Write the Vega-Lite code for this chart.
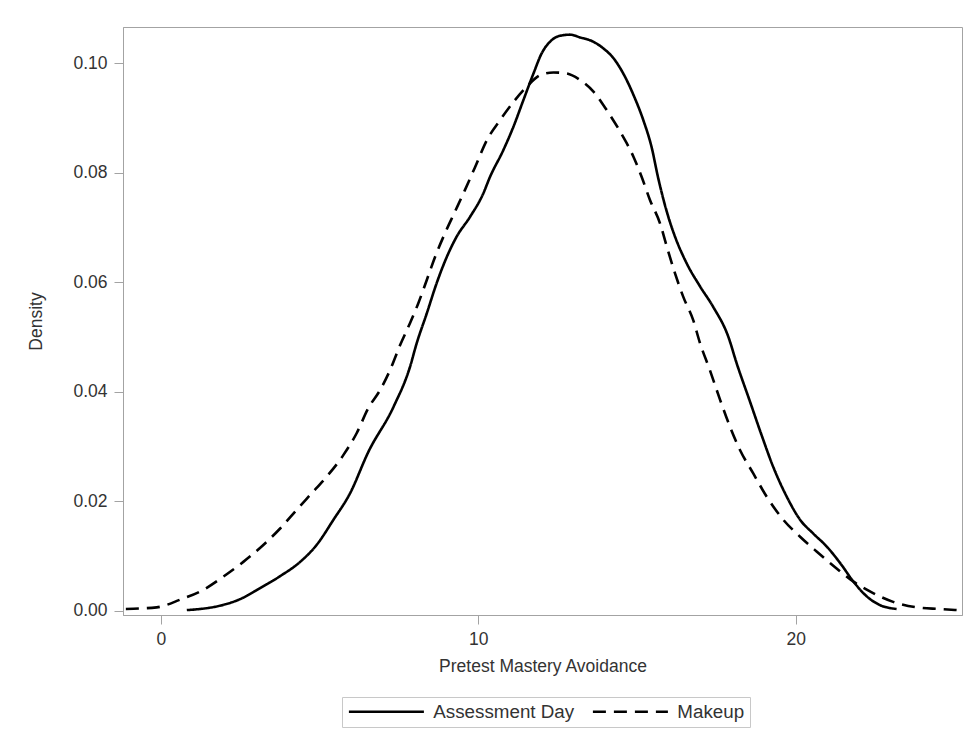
{
  "$schema": "https://vega.github.io/schema/vega-lite/v6.json",
  "autosize": {"type": "none"},
  "padding": {"left": 123, "top": 27, "right": 6, "bottom": 119},
  "width": 839,
  "height": 588,
  "background": "white",
  "config": {
    "font": "Liberation Sans",
    "view": {"stroke": "#a3a3a3", "strokeWidth": 1},
    "axis": {
      "domainColor": "#a3a3a3",
      "tickColor": "#a3a3a3",
      "tickSize": 9,
      "labelFont": "Liberation Sans",
      "titleFont": "Liberation Sans",
      "labelFontSize": 17.5,
      "titleFontSize": 17.5,
      "labelColor": "#333333",
      "titleColor": "#333333",
      "titleFontWeight": "normal",
      "grid": false
    },
    "legend": {
      "labelFont": "Liberation Sans",
      "labelFontSize": 18.8,
      "labelColor": "#333333"
    }
  },
  "data": {
    "values": [
      {"group": "Assessment Day", "x": 0.82, "d": 0.0001},
      {"group": "Assessment Day", "x": 1.24, "d": 0.0003},
      {"group": "Assessment Day", "x": 1.87, "d": 0.0009},
      {"group": "Assessment Day", "x": 2.50, "d": 0.0021},
      {"group": "Assessment Day", "x": 3.13, "d": 0.0041},
      {"group": "Assessment Day", "x": 3.76, "d": 0.0063},
      {"group": "Assessment Day", "x": 4.39, "d": 0.0089},
      {"group": "Assessment Day", "x": 4.91, "d": 0.0120},
      {"group": "Assessment Day", "x": 5.44, "d": 0.0166},
      {"group": "Assessment Day", "x": 5.96, "d": 0.0214},
      {"group": "Assessment Day", "x": 6.54, "d": 0.0290},
      {"group": "Assessment Day", "x": 7.33, "d": 0.0372},
      {"group": "Assessment Day", "x": 7.85, "d": 0.0445},
      {"group": "Assessment Day", "x": 8.06, "d": 0.0488},
      {"group": "Assessment Day", "x": 8.38, "d": 0.0543},
      {"group": "Assessment Day", "x": 8.69, "d": 0.0598},
      {"group": "Assessment Day", "x": 9.01, "d": 0.0646},
      {"group": "Assessment Day", "x": 9.32, "d": 0.0683},
      {"group": "Assessment Day", "x": 9.74, "d": 0.0719},
      {"group": "Assessment Day", "x": 10.16, "d": 0.0762},
      {"group": "Assessment Day", "x": 10.37, "d": 0.0792},
      {"group": "Assessment Day", "x": 10.79, "d": 0.0841},
      {"group": "Assessment Day", "x": 11.11, "d": 0.0884},
      {"group": "Assessment Day", "x": 11.42, "d": 0.0932},
      {"group": "Assessment Day", "x": 11.74, "d": 0.0981},
      {"group": "Assessment Day", "x": 12.00, "d": 0.1018},
      {"group": "Assessment Day", "x": 12.26, "d": 0.1039},
      {"group": "Assessment Day", "x": 12.58, "d": 0.1050},
      {"group": "Assessment Day", "x": 12.89, "d": 0.1052},
      {"group": "Assessment Day", "x": 13.21, "d": 0.1047},
      {"group": "Assessment Day", "x": 13.63, "d": 0.1039},
      {"group": "Assessment Day", "x": 13.94, "d": 0.1027},
      {"group": "Assessment Day", "x": 14.26, "d": 0.1009},
      {"group": "Assessment Day", "x": 14.57, "d": 0.0981},
      {"group": "Assessment Day", "x": 14.89, "d": 0.0942},
      {"group": "Assessment Day", "x": 15.20, "d": 0.0896},
      {"group": "Assessment Day", "x": 15.46, "d": 0.0847},
      {"group": "Assessment Day", "x": 15.67, "d": 0.0790},
      {"group": "Assessment Day", "x": 15.99, "d": 0.0719},
      {"group": "Assessment Day", "x": 16.20, "d": 0.0683},
      {"group": "Assessment Day", "x": 16.57, "d": 0.0634},
      {"group": "Assessment Day", "x": 16.99, "d": 0.0592},
      {"group": "Assessment Day", "x": 17.40, "d": 0.0555},
      {"group": "Assessment Day", "x": 17.88, "d": 0.0500},
      {"group": "Assessment Day", "x": 18.14, "d": 0.0452},
      {"group": "Assessment Day", "x": 18.56, "d": 0.0382},
      {"group": "Assessment Day", "x": 18.93, "d": 0.0320},
      {"group": "Assessment Day", "x": 19.29, "d": 0.0263},
      {"group": "Assessment Day", "x": 19.72, "d": 0.0208},
      {"group": "Assessment Day", "x": 20.14, "d": 0.0166},
      {"group": "Assessment Day", "x": 20.55, "d": 0.0141},
      {"group": "Assessment Day", "x": 20.98, "d": 0.0117},
      {"group": "Assessment Day", "x": 21.40, "d": 0.0087},
      {"group": "Assessment Day", "x": 21.82, "d": 0.0053},
      {"group": "Assessment Day", "x": 22.24, "d": 0.0026},
      {"group": "Assessment Day", "x": 22.66, "d": 0.0010},
      {"group": "Assessment Day", "x": 23.18, "d": 0.0003},
      {"group": "Makeup", "x": -1.10, "d": 0.0003},
      {"group": "Makeup", "x": -0.13, "d": 0.0006},
      {"group": "Makeup", "x": 0.61, "d": 0.0020},
      {"group": "Makeup", "x": 1.34, "d": 0.0038},
      {"group": "Makeup", "x": 1.97, "d": 0.0062},
      {"group": "Makeup", "x": 2.60, "d": 0.0089},
      {"group": "Makeup", "x": 3.23, "d": 0.0120},
      {"group": "Makeup", "x": 3.76, "d": 0.0150},
      {"group": "Makeup", "x": 4.28, "d": 0.0184},
      {"group": "Makeup", "x": 4.70, "d": 0.0211},
      {"group": "Makeup", "x": 5.23, "d": 0.0245},
      {"group": "Makeup", "x": 5.75, "d": 0.0284},
      {"group": "Makeup", "x": 6.17, "d": 0.0324},
      {"group": "Makeup", "x": 6.54, "d": 0.0370},
      {"group": "Makeup", "x": 6.91, "d": 0.0403},
      {"group": "Makeup", "x": 7.22, "d": 0.0439},
      {"group": "Makeup", "x": 7.54, "d": 0.0485},
      {"group": "Makeup", "x": 7.85, "d": 0.0525},
      {"group": "Makeup", "x": 8.11, "d": 0.0561},
      {"group": "Makeup", "x": 8.38, "d": 0.0604},
      {"group": "Makeup", "x": 8.64, "d": 0.0646},
      {"group": "Makeup", "x": 8.95, "d": 0.0689},
      {"group": "Makeup", "x": 9.27, "d": 0.0729},
      {"group": "Makeup", "x": 9.58, "d": 0.0768},
      {"group": "Makeup", "x": 9.90, "d": 0.0810},
      {"group": "Makeup", "x": 10.27, "d": 0.0859},
      {"group": "Makeup", "x": 10.69, "d": 0.0896},
      {"group": "Makeup", "x": 11.11, "d": 0.0929},
      {"group": "Makeup", "x": 11.53, "d": 0.0957},
      {"group": "Makeup", "x": 11.95, "d": 0.0978},
      {"group": "Makeup", "x": 12.37, "d": 0.0983},
      {"group": "Makeup", "x": 12.79, "d": 0.0981},
      {"group": "Makeup", "x": 13.21, "d": 0.0969},
      {"group": "Makeup", "x": 13.63, "d": 0.0948},
      {"group": "Makeup", "x": 14.05, "d": 0.0914},
      {"group": "Makeup", "x": 14.47, "d": 0.0875},
      {"group": "Makeup", "x": 14.89, "d": 0.0829},
      {"group": "Makeup", "x": 15.15, "d": 0.0792},
      {"group": "Makeup", "x": 15.41, "d": 0.0750},
      {"group": "Makeup", "x": 15.73, "d": 0.0707},
      {"group": "Makeup", "x": 15.94, "d": 0.0665},
      {"group": "Makeup", "x": 16.20, "d": 0.0616},
      {"group": "Makeup", "x": 16.46, "d": 0.0573},
      {"group": "Makeup", "x": 16.77, "d": 0.0531},
      {"group": "Makeup", "x": 16.99, "d": 0.0488},
      {"group": "Makeup", "x": 17.30, "d": 0.0439},
      {"group": "Makeup", "x": 17.62, "d": 0.0385},
      {"group": "Makeup", "x": 17.93, "d": 0.0336},
      {"group": "Makeup", "x": 18.25, "d": 0.0293},
      {"group": "Makeup", "x": 18.66, "d": 0.0251},
      {"group": "Makeup", "x": 19.09, "d": 0.0208},
      {"group": "Makeup", "x": 19.61, "d": 0.0166},
      {"group": "Makeup", "x": 20.14, "d": 0.0135},
      {"group": "Makeup", "x": 20.66, "d": 0.0108},
      {"group": "Makeup", "x": 21.29, "d": 0.0077},
      {"group": "Makeup", "x": 21.82, "d": 0.0053},
      {"group": "Makeup", "x": 22.44, "d": 0.0032},
      {"group": "Makeup", "x": 23.07, "d": 0.0016},
      {"group": "Makeup", "x": 23.81, "d": 0.0006},
      {"group": "Makeup", "x": 24.54, "d": 0.0003},
      {"group": "Makeup", "x": 25.07, "d": 0.0001}
    ]
  },
  "mark": {"type": "line", "color": "black", "strokeWidth": 2.6, "interpolate": "monotone", "clip": true},
  "encoding": {
    "x": {
      "field": "x", "type": "quantitative",
      "scale": {"domain": [-1.19, 25.24], "nice": false, "zero": false},
      "axis": {"values": [0, 10, 20], "title": "Pretest Mastery Avoidance", "labelPadding": 6, "titlePadding": 10}
    },
    "y": {
      "field": "d", "type": "quantitative",
      "scale": {"domain": [-0.0008, 0.1066], "nice": false, "zero": false},
      "axis": {"values": [0, 0.02, 0.04, 0.06, 0.08, 0.1], "format": ".2f", "title": "Density", "labelPadding": 7, "titlePadding": 27}
    },
    "strokeDash": {
      "field": "group", "type": "nominal",
      "scale": {"domain": ["Assessment Day", "Makeup"], "range": [[1, 0], [13, 8]]},
      "legend": {
        "title": null,
        "orient": "none",
        "direction": "horizontal",
        "legendX": 219,
        "legendY": 670,
        "symbolType": "M-1,0L9,0",
        "symbolSize": 225,
        "symbolStrokeWidth": 2.6,
        "symbolStrokeColor": "black",
        "symbolFillColor": "transparent",
        "symbolDash": [14, 10],
        "labelOffset": 67.5,
        "columnPadding": 12,
        "padding": 5,
        "strokeColor": "#c8c8c8"
      }
    }
  }
}
